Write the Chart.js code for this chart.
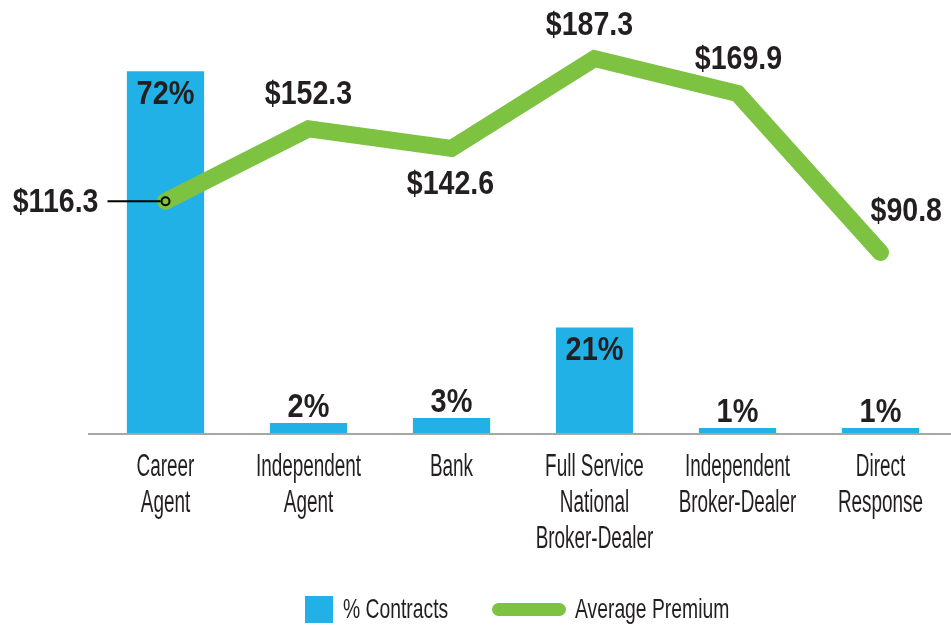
<!DOCTYPE html>
<html>
<head>
<meta charset="utf-8">
<script src="https://cdn.jsdelivr.net/npm/chart.js@4/dist/chart.umd.min.js"></script>
<style>
  html, body { margin: 0; padding: 0; background: #fff; overflow: hidden; width: 951px; height: 628px; }
  #wrap { position: absolute; left: 0; top: 0; width: 958px; height: 628px; }
  .leg { position: absolute; font-family: "Liberation Sans", Arial, sans-serif; font-size: 28px; color: #231F20; line-height: 28px; white-space: nowrap; transform: scaleX(0.69); transform-origin: 0 0; }
  .sw1 { position: absolute; left: 305px; top: 596px; width: 28px; height: 27px; background: #22B1E6; }
  .sw2 { position: absolute; left: 492px; top: 603px; width: 74px; height: 13px; border-radius: 7px; background: #7DC241; }
</style>
</head>
<body>
<div id="wrap"><canvas id="c" width="958" height="628"></canvas></div>
<div class="sw1"></div><div class="leg" style="left:343px; top:595px;">% Contracts</div>
<div class="sw2"></div><div class="leg" style="left:575px; top:595px;">Average Premium</div>
<script>
const categories = [["Career","Agent"],["Independent","Agent"],["Bank"],["Full Service","National","Broker-Dealer"],["Independent","Broker-Dealer"],["Direct","Response"]];
const contractsPct = [72, 2, 3, 21, 1, 1];
const avgPremium = [116.3, 152.3, 142.6, 187.3, 169.9, 90.8];

const FONT = '"Liberation Sans", Arial, sans-serif';
const TEXT = '#231F20';
const BLUE = '#22B1E6';
const GREEN = '#7DC241';

// label offsets (alphabetic baseline) relative to each point
const lineLabelPos = [
  {dx: -67, dy: 11, align: 'right', leader: true},
  {dx: 0, dy: -25},
  {dx: -1, dy: 46},
  {dx: -5, dy: -24},
  {dx: 1, dy: -25},
  {dx: -10, dy: -31, align: 'left'}
];

function condText(ctx, text, x, y, align, sx) {
  ctx.save();
  ctx.translate(x, y);
  ctx.scale(sx, 1);
  ctx.textAlign = align;
  ctx.textBaseline = 'alphabetic';
  ctx.fillText(text, 0, 0);
  ctx.restore();
}

const axisLine = {
  id: 'axisLine',
  beforeDatasetsDraw(chart) {
    const ctx = chart.ctx, a = chart.chartArea;
    const y = chart.scales.y.getPixelForValue(0);
    ctx.save();
    ctx.strokeStyle = '#A6A6A6';
    ctx.lineWidth = 2;
    ctx.beginPath();
    ctx.moveTo(a.left - 6, y + 1);
    ctx.lineTo(a.right, y + 1);
    ctx.stroke();
    ctx.restore();
  }
};

const tickText = {
  id: 'tickText',
  afterDraw(chart) {
    const ctx = chart.ctx, xs = chart.scales.x;
    ctx.save();
    ctx.fillStyle = TEXT;
    ctx.font = '31px ' + FONT;
    chart.data.labels.forEach((lab, i) => {
      const x = xs.getPixelForTick(i);
      const lines = Array.isArray(lab) ? lab : [lab];
      lines.forEach((ln, j) => condText(ctx, ln, x, 476 + j * 36, 'center', 0.61));
    });
    ctx.restore();
  }
};

const labels = {
  id: 'labels',
  afterDatasetsDraw(chart) {
    const ctx = chart.ctx;
    ctx.save();
    ctx.fillStyle = TEXT;
    ctx.font = 'bold 34px ' + FONT;
    const bm = chart.getDatasetMeta(0);
    bm.data.forEach((el, i) => {
      const v = contractsPct[i];
      const y = v >= 10 ? el.y + 33 : el.y - 6;
      condText(ctx, v + '%', el.x, y, 'center', 0.85);
    });
    const lm = chart.getDatasetMeta(1);
    lm.data.forEach((el, i) => {
      const p = lineLabelPos[i];
      condText(ctx, '$' + avgPremium[i].toFixed(1), el.x + p.dx, el.y + p.dy, p.align || 'center', 0.84);
      if (p.leader) {
        ctx.save();
        ctx.strokeStyle = '#000';
        ctx.lineWidth = 2;
        ctx.beginPath();
        ctx.moveTo(el.x - 58, el.y);
        ctx.lineTo(el.x - 5, el.y);
        ctx.stroke();
        ctx.restore();
      }
    });
    ctx.restore();
  }
};

new Chart(document.getElementById('c'), {
  data: {
    labels: categories,
    datasets: [
      {
        type: 'bar',
        label: '% Contracts',
        data: contractsPct,
        backgroundColor: BLUE,
        borderWidth: 0,
        categoryPercentage: 1,
        barPercentage: 0.54,
        yAxisID: 'y',
        order: 1
      },
      {
        type: 'line',
        label: 'Average Premium',
        data: avgPremium,
        borderColor: GREEN,
        backgroundColor: GREEN,
        borderWidth: 17,
        borderCapStyle: 'round',
        borderJoinStyle: 'miter',
        tension: 0,
        pointRadius: [4, 0, 0, 0, 0, 0],
        pointHoverRadius: 0,
        pointBackgroundColor: GREEN,
        pointBorderColor: '#000',
        pointBorderWidth: 2,
        yAxisID: 'y1',
        order: 0
      }
    ]
  },
  options: {
    responsive: false,
    animation: false,
    events: [],
    layout: { padding: { left: 94, right: 0, top: 33, bottom: 0 } },
    plugins: { legend: { display: false }, tooltip: { enabled: false } },
    scales: {
      x: {
        grid: { display: false, drawTicks: false },
        border: { display: false },
        ticks: { display: false, autoSkip: false },
        afterFit(s) { s.height = 195; }
      },
      y: { display: false, min: 0, max: 79.6 },
      y1: { display: false, min: 1, max: 200 }
    }
  },
  plugins: [axisLine, labels, tickText]
});
</script>
</body>
</html>
